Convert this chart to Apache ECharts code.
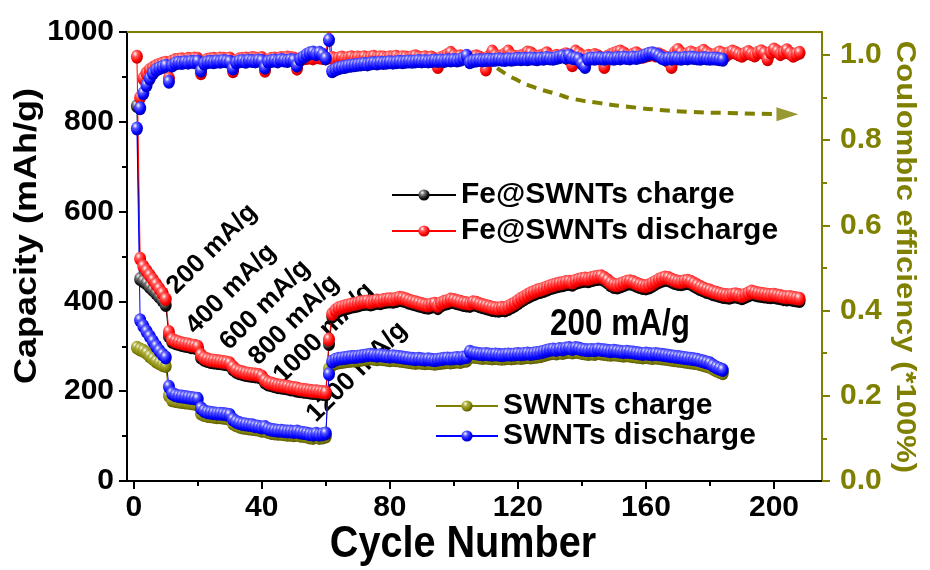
<!DOCTYPE html>
<html>
<head>
<meta charset="utf-8">
<script src="https://cdn.jsdelivr.net/npm/echarts@6/dist/echarts.min.js"></script>
<style>
  html, body { margin: 0; padding: 0; background: #fff; }
  #chart { width: 930px; height: 570px; }
</style>
</head>
<body>
<div id="chart"></div>
<script>
// capacity (mAh/g), cycle 1 onwards
const feDischarge = [
  945, 495, 478, 468, 458, 448, 438, 428, 418, 405,
  332, 315, 311, 309, 307, 305, 304, 302, 301, 299,
  281, 274, 271, 269, 268, 267, 266, 265, 264, 262,
  254, 247, 244, 242, 240, 239, 238, 237, 236, 233,
  224, 219, 217, 215, 213, 212, 211, 210, 208, 207,
  206, 204, 203, 202, 201, 200, 200, 199, 198, 197,
  315, 372, 380, 385, 387, 389, 391, 393, 394, 396,
  398, 399, 400, 398, 400, 402, 401, 403, 404, 405,
  404, 406, 408, 407, 405, 402, 400, 398, 396, 394,
  392, 391, 393, 395, 390, 396, 399, 401, 404, 403,
  401, 399, 397, 396, 395, 398, 397, 394, 392, 390,
  388, 386, 385, 384, 386, 385, 388, 392, 396, 401,
  406, 410, 414, 418, 421, 424, 426, 428, 431, 434,
  436, 438, 440, 441, 443, 444, 442, 446, 448, 450,
  451, 450, 452, 454, 455, 456, 452, 447, 441, 437,
  436, 438, 441, 444, 445, 443, 440, 437, 435, 434,
  436, 440, 444, 448, 451, 453, 452, 449, 446, 444,
  443, 445, 446, 444, 440, 436, 432, 429, 426, 424,
  421, 419, 417, 415, 414, 413, 415, 416, 414, 412,
  415, 418, 422, 420, 418, 417, 416, 415, 414, 415,
  413, 412, 410, 409, 410, 408, 407, 406
];
const feCharge = [
  835, 450, 445, 440, 432, 425, 418, 410, 402, 392,
  322, 310, 307, 305, 303, 301, 300, 298, 297, 295,
  275, 270, 267, 265, 264, 263, 262, 261, 260, 258,
  249, 243, 240, 238, 236, 235, 234, 233, 232, 229,
  219, 215, 213, 211, 209, 208, 207, 206, 204, 203,
  201, 200, 199, 198, 197, 196, 196, 195, 194, 193,
  305, 366, 374, 379, 382, 384, 386, 388, 389, 391,
  393, 394, 395, 393, 395, 397, 396, 398, 399, 400,
  399, 401, 403, 402, 400, 397, 395, 393, 391, 389,
  387, 386, 388, 390, 385, 391, 394, 396, 399, 398,
  396, 394, 392, 391, 390, 393, 392, 389, 387, 385,
  383, 381, 380, 379, 381, 380, 383, 387, 391, 396,
  401, 405, 409, 413, 416, 419, 421, 423, 426, 429,
  431, 433, 435, 436, 438, 439, 437, 441, 443, 445,
  446, 445, 447, 449, 450, 451, 447, 442, 436, 432,
  431, 433, 436, 439, 440, 438, 435, 432, 430, 429,
  431, 435, 439, 443, 446, 448, 447, 444, 441, 439,
  438, 440, 441, 439, 435, 431, 427, 424, 421, 419,
  416, 414, 412, 410, 409, 408, 410, 411, 409, 407,
  410, 413, 417, 415, 413, 412, 411, 410, 409, 410,
  408, 407, 405, 404, 405, 403, 402, 401
];
const swDischarge = [
  785, 358, 345, 333, 322, 311, 300, 290, 282, 275,
  210, 195, 191, 189, 188, 187, 186, 185, 184, 183,
  162, 156, 153, 152, 151, 150, 150, 149, 148, 147,
  137, 132, 129, 127, 126, 125, 124, 122, 121, 119,
  120, 116, 114, 113, 112, 112, 111, 110, 110, 109,
  110, 108, 107, 106, 104, 103, 105, 103, 104, 106,
  238, 266, 270, 272, 273, 274, 275, 276, 276, 277,
  278, 279, 280, 281, 280, 279, 280, 279, 278, 277,
  278, 277, 276, 275, 274, 273, 272, 271, 272, 271,
  270, 271, 270, 269, 270, 271, 272, 273, 272, 273,
  274, 273, 275, 276, 288, 285, 284, 283, 282, 283,
  282, 281, 282, 281, 280, 281, 282, 281, 282, 283,
  282, 283, 284, 283, 284, 285, 286, 288, 290, 292,
  293, 292, 294, 293, 295, 296, 294, 296, 295, 293,
  292, 291, 292, 291, 293, 292, 291, 290, 289, 290,
  289, 288, 287, 288, 287, 286, 285, 284, 283, 284,
  283, 282, 283, 282, 281, 280, 279, 278, 277, 276,
  275, 274, 273, 272, 271, 270, 268, 266, 264, 262,
  257, 253, 250, 247
];
const swCharge = [
  297, 293, 290, 285, 278, 272, 266, 262, 258, 256,
  190, 180, 178, 177, 176, 175, 174, 173, 172, 171,
  150, 147, 145, 144, 143, 142, 142, 141, 140, 139,
  128, 124, 121, 119, 118, 117, 116, 115, 114, 112,
  112, 109, 107, 106, 105, 105, 104, 103, 103, 102,
  103, 101, 100, 99, 97, 96, 98, 96, 97, 99,
  250, 258, 262, 264, 265, 266, 267, 268, 268, 269,
  270, 271, 272, 273, 272, 271, 272, 271, 270, 269,
  270, 269, 268, 267, 266, 265, 264, 263, 264, 263,
  262, 263, 262, 261, 262, 263, 264, 265, 264, 265,
  266, 265, 267, 268, 278, 277, 276, 275, 274, 275,
  274, 273, 274, 273, 272, 273, 274, 273, 274, 275,
  274, 275, 276, 275, 276, 277, 278, 280, 282, 284,
  285, 284, 286, 285, 287, 288, 286, 288, 287, 285,
  284, 283, 284, 283, 285, 284, 283, 282, 281, 282,
  281, 280, 279, 280, 279, 278, 277, 276, 275, 276,
  275, 274, 275, 274, 273, 272, 271, 270, 269, 268,
  267, 266, 265, 264, 263, 262, 260, 258, 256, 254,
  250, 246, 243, 240
];
// coulombic efficiency, cycle 2 onwards
const feCE = [
  0.900, 0.945, 0.957, 0.965, 0.970, 0.974, 0.977, 0.980, 0.982,
  0.945, 0.985, 0.988, 0.989, 0.990, 0.988, 0.991, 0.990, 0.992, 0.991,
  0.957, 0.984, 0.989, 0.990, 0.991, 0.989, 0.992, 0.991, 0.990, 0.992,
  0.962, 0.986, 0.990, 0.991, 0.992, 0.990, 0.993, 0.992, 0.991, 0.993,
  0.963, 0.987, 0.991, 0.992, 0.990, 0.993, 0.992, 0.994, 0.993, 0.992,
  0.968, 0.988, 0.992, 0.993, 0.994, 0.992, 0.995, 0.994, 0.993, 0.992,
  1.080, 0.993, 0.990, 0.992, 0.994, 0.991, 0.993, 0.995, 0.992, 0.994,
  0.993, 0.995, 0.992, 0.994, 0.996, 0.993, 0.995, 0.994, 0.992, 0.995,
  0.994, 0.996, 0.993, 0.995, 0.994, 0.992, 0.995, 0.997, 0.994, 0.993,
  0.995, 0.992, 0.994, 0.990, 0.972, 0.993, 0.996, 1.000, 1.005, 0.998,
  0.995, 0.997, 0.994, 0.996, 0.993, 0.995, 0.997, 0.994, 0.990, 0.966,
  0.996, 1.008, 0.999, 0.995, 0.997, 1.002, 1.008, 0.998, 0.996, 0.994,
  0.997, 1.000, 1.006, 1.004, 0.998, 0.995, 0.997, 0.999, 1.004, 0.997,
  0.995, 0.998, 0.996, 0.999, 1.002, 0.990, 0.976, 1.008, 1.003, 0.997,
  0.995, 0.998, 0.996, 1.000, 0.997, 0.990, 0.972, 0.996, 1.000, 1.003,
  1.006, 1.008, 1.004, 0.999, 0.997, 1.001, 1.004, 0.999, 0.996, 0.998,
  1.000, 1.003, 0.999, 1.002, 0.998, 0.994, 0.985, 0.972, 1.005, 1.012,
  1.004, 0.999, 1.002, 1.006, 1.003, 0.999, 1.005, 1.010, 1.004, 1.000,
  0.997, 1.002, 1.006, 1.003, 0.999, 1.004, 1.008, 1.005, 1.001, 0.998,
  1.003, 1.007, 1.002, 0.999, 1.005, 1.009, 1.004, 0.990, 1.006, 1.013,
  1.008, 1.002, 1.006, 1.011, 1.004, 0.998, 1.002, 1.005
];
const swCE = [
  0.875, 0.910, 0.929, 0.945, 0.957, 0.965, 0.969, 0.972, 0.975,
  0.937, 0.975, 0.980, 0.982, 0.981, 0.983, 0.982, 0.984, 0.983, 0.985,
  0.963, 0.980, 0.983, 0.984, 0.983, 0.985, 0.984, 0.986, 0.985, 0.984,
  0.968, 0.982, 0.985, 0.986, 0.984, 0.987, 0.986, 0.985, 0.987, 0.986,
  0.970, 0.984, 0.986, 0.987, 0.985, 0.988, 0.987, 0.986, 0.988, 0.987,
  0.975, 0.990, 0.995, 1.000, 1.004, 1.006, 1.002, 1.005, 1.001, 0.992,
  1.035, 0.962, 0.966, 0.969, 0.971, 0.972, 0.974, 0.975, 0.976, 0.977,
  0.978, 0.979, 0.978, 0.980, 0.981, 0.980, 0.982, 0.981, 0.982, 0.983,
  0.982, 0.983, 0.984, 0.983, 0.984, 0.985, 0.984, 0.985, 0.986, 0.985,
  0.986, 0.985, 0.986, 0.987, 0.986, 0.987, 0.986, 0.988, 0.987, 0.988,
  0.987, 0.989, 0.992, 0.998, 0.983, 0.986, 0.987, 0.988, 0.987, 0.988,
  0.989, 0.988, 0.989, 0.990, 0.989, 0.988, 0.990, 0.989, 0.990, 0.991,
  0.990, 0.991, 0.990, 0.992, 0.991, 0.990, 0.992, 0.991, 0.993, 0.992,
  0.991, 0.993, 0.995, 0.997, 0.994, 0.999, 0.993, 0.992, 0.990, 0.980,
  0.972, 0.990, 0.992, 0.991, 0.993, 0.992, 0.991, 0.993, 0.992, 0.991,
  0.993, 0.992, 0.994, 0.993, 0.992, 0.994, 0.993, 0.995, 0.997, 1.000,
  1.003, 1.004, 1.002, 0.998, 0.993, 0.990, 0.992, 0.991, 0.993, 0.992,
  0.991, 0.993, 0.992, 0.994, 0.993, 0.992, 0.991, 0.993, 0.992, 0.991,
  0.992, 0.991, 0.990, 0.989
];
// dashed guide arrow towards the right axis: [cycle, efficiency]
const arrowPath = [
  [113.5, 0.969], [118.5, 0.946], [124.8, 0.925], [132.3, 0.908], [137.3, 0.897],
  [145.7, 0.887], [155.1, 0.878], [164.5, 0.871], [174.8, 0.866], [185.4, 0.864], [201.0, 0.861]
];
const arrowHead = [[204.2, 0.861]];

const cycleTicks = [0, 40, 80, 120, 160, 200];
const cycleMinorTicks = [20, 60, 100, 140, 180];
const ceTicks = [0, 0.2, 0.4, 0.6, 0.8, 1.0];
const ceMinorTicks = [0.1, 0.3, 0.5, 0.7, 0.9];

const rateLabels = ['200 mA/g', '400 mA/g', '600 mA/g', '800 mA/g', '1000 mA/g', '1200 mA/g'];

const FONT = '"Liberation Sans", Arial, sans-serif';
const OLIVE = '#808000';

const chart = echarts.init(document.getElementById('chart'));

function ball(c0, c1, c2) {
  return new echarts.graphic.RadialGradient(0.35, 0.3, 0.7, [
    { offset: 0, color: '#ffffff' },
    { offset: 0.3, color: c0 },
    { offset: 0.75, color: c1 },
    { offset: 1, color: c2 }
  ]);
}

const toPairs = (arr, start) => arr.map((v, i) => [i + start, v]);

function capSeries(name, data, color, grad, yIdx, start) {
  return {
    type: 'line',
    name: name,
    data: toPairs(data, start),
    yAxisIndex: yIdx,
    symbol: 'circle',
    symbolSize: [12, 14],
    itemStyle: { color: grad, borderWidth: 0 },
    lineStyle: { color: color, width: 1 },
    emphasis: { disabled: true }
  };
}

const rateText = rateLabels.map((t, i) => {
  const pos = [[212, 249], [231, 289], [265, 305], [294, 320], [324, 333], [357, 372]][i];
  return {
    type: 'text', x: pos[0], y: pos[1], rotation: Math.PI / 4,
    style: { text: t, font: 'bold 26px ' + FONT, fill: '#000', align: 'center', verticalAlign: 'middle' }
  };
});

const tickFont = { fontFamily: FONT, fontWeight: 'bold', fontSize: 30 };
const legendText = { fontFamily: FONT, fontWeight: 'bold', fontSize: 30, color: '#000' };

const option = {
  animation: false,
  backgroundColor: '#fff',
  grid: { left: 127, right: 108, top: 32, bottom: 89 },
  legend: [
    {
      data: ['Fe@SWNTs charge', 'Fe@SWNTs discharge'],
      orient: 'vertical', left: 386, top: 175,
      itemWidth: 64, itemHeight: 14, itemGap: 6,
      textStyle: legendText
    },
    {
      data: ['SWNTs charge', 'SWNTs discharge'],
      orient: 'vertical', left: 430, top: 386,
      itemWidth: 62, itemHeight: 14, itemGap: 0,
      textStyle: legendText
    }
  ],
  xAxis: [
    {
      type: 'value', min: -2.1, max: 215, position: 'bottom',
      axisLine: { onZero: false, lineStyle: { color: '#000', width: 2 } },
      axisTick: { customValues: cycleTicks, length: 8, lineStyle: { color: '#000', width: 2 } },
      axisLabel: Object.assign({ customValues: cycleTicks, margin: 12, color: '#000' }, tickFont),
      splitLine: { show: false }
    },
    {
      type: 'value', min: -2.1, max: 215, position: 'bottom',
      axisLine: { show: false, onZero: false },
      axisTick: { customValues: cycleMinorTicks, length: 5, lineStyle: { color: '#000', width: 2 } },
      axisLabel: { show: false },
      splitLine: { show: false }
    },
    {
      type: 'value', min: -2.1, max: 215, position: 'top',
      axisLine: { onZero: false, lineStyle: { color: OLIVE, width: 2 } },
      axisTick: { show: false }, axisLabel: { show: false }, splitLine: { show: false }
    }
  ],
  yAxis: [
    {
      type: 'value', min: 0, max: 1000, interval: 200, position: 'left',
      axisLine: { show: true, onZero: false, lineStyle: { color: '#000', width: 2 } },
      axisTick: { length: 8, lineStyle: { color: '#000', width: 2 } },
      minorTick: { show: true, splitNumber: 2, length: 5, lineStyle: { color: '#000', width: 2 } },
      axisLabel: Object.assign({ margin: 13, color: '#000', formatter: v => String(v) }, tickFont),
      splitLine: { show: false }
    },
    {
      type: 'value', min: 0, max: 1.054, position: 'right',
      axisLine: { show: true, onZero: false, lineStyle: { color: OLIVE, width: 2 } },
      axisTick: { customValues: ceTicks, length: 8, lineStyle: { color: OLIVE, width: 2 } },
      axisLabel: Object.assign({ customValues: ceTicks, margin: 18, color: OLIVE, formatter: v => v.toFixed(1) }, tickFont),
      splitLine: { show: false }
    },
    {
      type: 'value', min: 0, max: 1.054, position: 'right',
      axisLine: { show: false, onZero: false },
      axisTick: { customValues: ceMinorTicks, length: 5, lineStyle: { color: OLIVE, width: 2 } },
      axisLabel: { show: false },
      splitLine: { show: false }
    }
  ],
  series: [
    capSeries('Fe@SWNTs charge', feCharge, '#000', ball('#777', '#111', '#000'), 0, 1),
    capSeries('Fe@SWNTs discharge', feDischarge, '#f00', ball('#ff5a5a', '#ff0000', '#c00000'), 0, 1),
    capSeries('SWNTs charge', swCharge, OLIVE, ball('#b0b040', '#808000', '#5a5a00'), 0, 1),
    capSeries('SWNTs discharge', swDischarge, '#00f', ball('#5a5aff', '#0000ff', '#0000b0'), 0, 1),
    capSeries('Fe@SWNTs CE', feCE, '#f00', ball('#ff5a5a', '#ff0000', '#c00000'), 1, 2),
    capSeries('SWNTs CE', swCE, '#00f', ball('#5a5aff', '#0000ff', '#0000b0'), 1, 2),
    {
      type: 'line', name: 'arrow', data: arrowPath, yAxisIndex: 1, smooth: true,
      symbol: 'none', lineStyle: { color: OLIVE, width: 4, type: [10, 7] }, z: 1
    },
    {
      type: 'scatter', name: 'arrowhead', data: arrowHead, yAxisIndex: 1,
      symbol: 'triangle', symbolSize: [14, 22], symbolRotate: -90,
      itemStyle: { color: OLIVE }
    }
  ],
  graphic: [
    {
      type: 'text', x: 28, y: 236, rotation: Math.PI / 2, scaleY: 0.85,
      style: { text: 'Capacity (mAh/g)', font: 'bold 36px ' + FONT, fill: '#000', align: 'center', verticalAlign: 'middle' }
    },
    {
      type: 'text', x: 905, y: 257, rotation: -Math.PI / 2, scaleY: 0.9,
      style: { text: 'Coulombic efficiency (*100%)', font: 'bold 31px ' + FONT, fill: OLIVE, align: 'center', verticalAlign: 'middle' }
    },
    {
      type: 'text', x: 463, y: 545, scaleX: 0.9,
      style: { text: 'Cycle Number', font: 'bold 44px ' + FONT, fill: '#000', align: 'center', verticalAlign: 'middle' }
    },
    {
      type: 'text', x: 620, y: 325, scaleX: 0.85,
      style: { text: '200 mA/g', font: 'bold 37px ' + FONT, fill: '#000', align: 'center', verticalAlign: 'middle' }
    }
  ].concat(rateText)
};

chart.setOption(option);
</script>
</body>
</html>
